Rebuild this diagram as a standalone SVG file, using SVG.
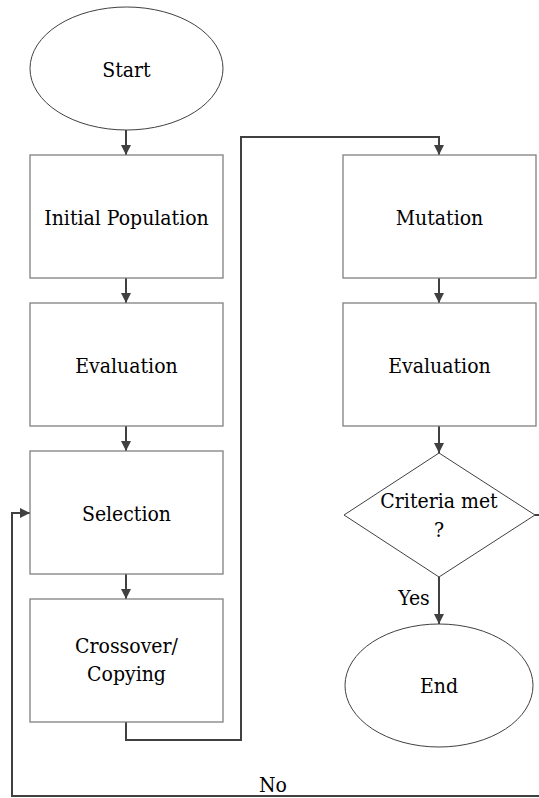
<svg xmlns="http://www.w3.org/2000/svg" width="539" height="798" viewBox="0 0 539 798">
<style>
.box{fill:#fff;stroke:#808080;stroke-width:1.3}
.term{fill:#fff;stroke:#404040;stroke-width:1}
.lbl{font-family:'DejaVu Serif Condensed','DejaVu Serif',serif;font-stretch:condensed;font-size:21px;fill:#000;text-anchor:middle}
.con{fill:none;stroke:#404040;stroke-width:2}
</style>
<defs>
<marker id="arr" viewBox="0 0 10 10" refX="10" refY="5" markerWidth="10" markerHeight="10" markerUnits="userSpaceOnUse" orient="auto">
<path d="M0,0 L10,5 L0,10 z" fill="#404040"/>
</marker>
</defs>
<rect width="539" height="798" fill="#fff"/>
<g id="connectors">
<path class="con" d="M126,130 V155" marker-end="url(#arr)"/>
<path class="con" d="M126,278 V303" marker-end="url(#arr)"/>
<path class="con" d="M126,426 V451" marker-end="url(#arr)"/>
<path class="con" d="M126,574 V599" marker-end="url(#arr)"/>
<path class="con" d="M126,722 V740 H241 V137 H439 V155" marker-end="url(#arr)"/>
<path class="con" d="M439,278 V303" marker-end="url(#arr)"/>
<path class="con" d="M439,426 V453" marker-end="url(#arr)"/>
<path class="con" d="M439,577 V624" marker-end="url(#arr)"/>
<path class="con" d="M535,515 H545 V796 H12 V513 H30" marker-end="url(#arr)"/>
<text class="lbl" x="414" y="605">Yes</text>
<text class="lbl" x="273" y="792">No</text>
</g>
<g id="start">
<ellipse class="term" cx="126.5" cy="68.5" rx="96.5" ry="61.5"/>
<text class="lbl" x="126.5" y="76.5">Start</text>
</g>
<g id="initial">
<rect class="box" x="30" y="155" width="193" height="123"/>
<text class="lbl" x="126.5" y="224.5">Initial Population</text>
</g>
<g id="eval1">
<rect class="box" x="30" y="303" width="193" height="123"/>
<text class="lbl" x="126.5" y="372.5">Evaluation</text>
</g>
<g id="selection">
<rect class="box" x="30" y="451" width="193" height="123"/>
<text class="lbl" x="126.5" y="520.5">Selection</text>
</g>
<g id="crossover">
<rect class="box" x="30" y="599" width="193" height="123"/>
<text class="lbl" x="126.5" y="653">Crossover/</text>
<text class="lbl" x="126.5" y="681">Copying</text>
</g>
<g id="mutation">
<rect class="box" x="343" y="155" width="193" height="123"/>
<text class="lbl" x="439.5" y="224.5">Mutation</text>
</g>
<g id="eval2">
<rect class="box" x="343" y="303" width="193" height="123"/>
<text class="lbl" x="439.5" y="372.5">Evaluation</text>
</g>
<g id="criteria">
<polygon class="term" points="439,453 535,515 439,577 344,515"/>
<text class="lbl" x="439" y="508">Criteria met</text>
<text class="lbl" x="439" y="537">?</text>
</g>
<g id="end">
<ellipse class="term" cx="439" cy="685.5" rx="94" ry="61.5"/>
<text class="lbl" x="439" y="693">End</text>
</g>
</svg>
